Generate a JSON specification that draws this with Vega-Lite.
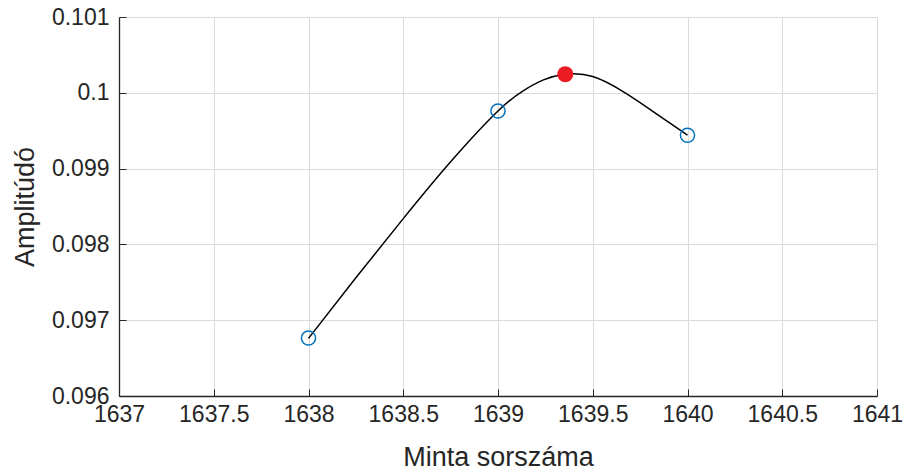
{
  "$schema": "https://vega.github.io/schema/vega-lite/v6.json",
  "autosize": "none",
  "width": 758,
  "height": 379,
  "padding": {"left": 119, "top": 17, "right": 27, "bottom": 76},
  "background": "white",
  "config": {
    "view": {"stroke": null},
    "font": "Liberation Sans",
    "axis": {
      "labelFont": "Liberation Sans",
      "titleFont": "Liberation Sans",
      "labelFontSize": 23,
      "titleFontSize": 27,
      "titleFontWeight": "normal",
      "labelColor": "#262626",
      "titleColor": "#262626",
      "domainColor": "#262626",
      "domainWidth": 1.3,
      "tickColor": "#262626",
      "tickSize": -7,
      "gridColor": "#dadada",
      "gridWidth": 1
    }
  },
  "datasets": {
    "curve": [
      {"x": 1638, "y": 0.09676},
      {"x": 1638.25, "y": 0.09756},
      {"x": 1638.5, "y": 0.09834},
      {"x": 1638.75, "y": 0.09909},
      {"x": 1639, "y": 0.09976},
      {"x": 1639.135, "y": 0.10003},
      {"x": 1639.24, "y": 0.10017},
      {"x": 1639.355, "y": 0.100245},
      {"x": 1639.5, "y": 0.100215},
      {"x": 1639.671, "y": 0.1},
      {"x": 1639.838, "y": 0.09972},
      {"x": 1640, "y": 0.09944}
    ],
    "samples": [
      {"x": 1638, "y": 0.096765},
      {"x": 1639, "y": 0.09976},
      {"x": 1640, "y": 0.09944}
    ],
    "peak": [
      {"x": 1639.355, "y": 0.100245}
    ]
  },
  "layer": [
    {
      "data": {"name": "curve"},
      "mark": {"type": "line", "color": "black", "strokeWidth": 1.5, "interpolate": "natural"},
      "encoding": {
        "x": {
          "field": "x", "type": "quantitative",
          "scale": {"domain": [1637, 1641], "nice": false, "zero": false},
          "axis": {"title": "Minta sorszáma", "values": [1637, 1637.5, 1638, 1638.5, 1639, 1639.5, 1640, 1640.5, 1641], "format": "~g", "labelPadding": 14, "titlePadding": 18, "labelFlush": false}
        },
        "y": {
          "field": "y", "type": "quantitative",
          "scale": {"domain": [0.096, 0.101], "nice": false, "zero": false},
          "axis": {"title": "Amplitúdó", "values": [0.096, 0.097, 0.098, 0.099, 0.1, 0.101], "format": "~g", "labelPadding": 17, "titlePadding": 12, "labelFlush": false}
        }
      }
    },
    {
      "data": {"name": "samples"},
      "mark": {"type": "point", "shape": "circle", "filled": false, "color": "#0072BD", "strokeWidth": 1.5, "size": 200, "opacity": 1},
      "encoding": {
        "x": {"field": "x", "type": "quantitative"},
        "y": {"field": "y", "type": "quantitative"}
      }
    },
    {
      "data": {"name": "peak"},
      "mark": {"type": "point", "shape": "circle", "filled": true, "color": "#ED1C24", "size": 260, "opacity": 1},
      "encoding": {
        "x": {"field": "x", "type": "quantitative"},
        "y": {"field": "y", "type": "quantitative"}
      }
    }
  ]
}
